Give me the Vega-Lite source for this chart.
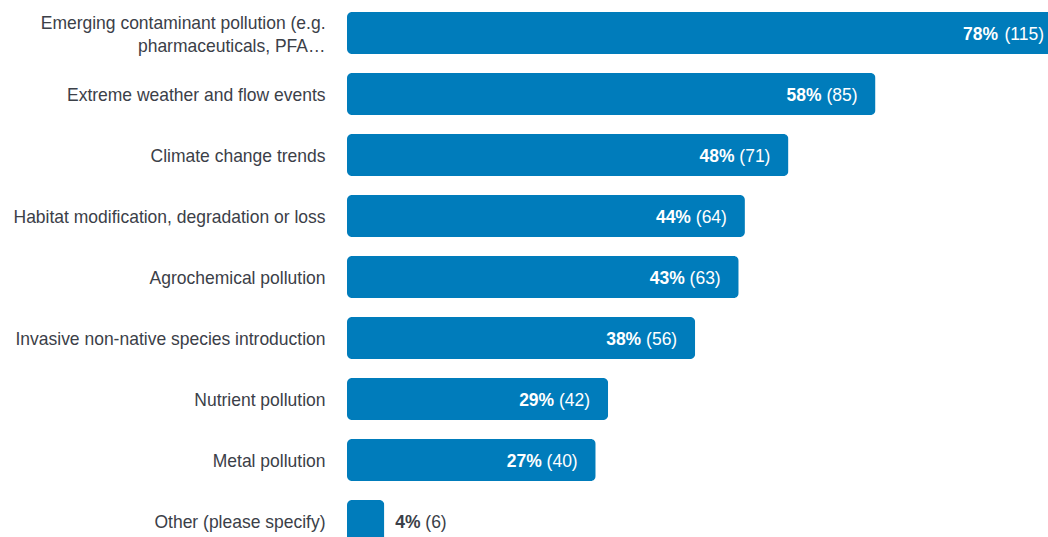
{
  "$schema": "https://vega.github.io/schema/vega-lite/v6.json",
  "autosize": {"type": "none"},
  "padding": {"left": 347, "top": 0, "right": 0, "bottom": 0},
  "width": 715,
  "height": {"step": 61},
  "background": "white",
  "config": {
    "view": {"stroke": null},
    "font": "Liberation Sans",
    "text": {"font": "Liberation Sans"}
  },
  "data": {
    "values": [
      {"category": "Emerging contaminant pollution (e.g. pharmaceuticals, PFA…", "pct": 78, "count": 115},
      {"category": "Extreme weather and flow events", "pct": 58, "count": 85},
      {"category": "Climate change trends", "pct": 48, "count": 71},
      {"category": "Habitat modification, degradation or loss", "pct": 44, "count": 64},
      {"category": "Agrochemical pollution", "pct": 43, "count": 63},
      {"category": "Invasive non-native species introduction", "pct": 38, "count": 56},
      {"category": "Nutrient pollution", "pct": 29, "count": 42},
      {"category": "Metal pollution", "pct": 27, "count": 40},
      {"category": "Other (please specify)", "pct": 4, "count": 6}
    ]
  },
  "transform": [
    {"calculate": "datum.pct + '%'", "as": "pctLabel"},
    {"calculate": "'(' + datum.count + ')'", "as": "countLabel"}
  ],
  "encoding": {
    "y": {
      "field": "category",
      "type": "nominal",
      "sort": null,
      "scale": {"paddingInner": 0.311, "paddingOuter": 0.197},
      "axis": {
        "title": null,
        "domain": false,
        "ticks": false,
        "labelFontSize": 17.5,
        "labelColor": "#3b4048",
        "labelPadding": 22,
        "labelLimit": 400,
        "labelLineHeight": 23,
        "labelOffset": {"condition": {"test": "indexof(datum.label, 'e.g.') >= 0", "value": -9}, "value": 2},
        "labelExpr": "split(replace(datum.label, '(e.g. ', '(e.g.|'), '|')"
      }
    },
    "x": {
      "field": "count",
      "type": "quantitative",
      "scale": {"domain": [0, 115], "nice": false},
      "axis": null
    }
  },
  "layer": [
    {"mark": {"type": "bar", "color": "#007cbb", "cornerRadius": 5}},
    {
      "transform": [{"filter": "datum.count >= 10"}],
      "mark": {"type": "text", "align": "right", "baseline": "middle", "dx": -18, "dy": 2, "fontSize": 17.5, "color": "white"},
      "encoding": {"text": {"field": "countLabel"}}
    },
    {
      "transform": [{"filter": "datum.count >= 10 && datum.count < 100"}],
      "mark": {"type": "text", "align": "right", "baseline": "middle", "dx": -54, "dy": 2, "fontSize": 17.5, "fontWeight": "bold", "color": "white"},
      "encoding": {"text": {"field": "pctLabel"}}
    },
    {
      "transform": [{"filter": "datum.count >= 100"}],
      "mark": {"type": "text", "align": "right", "baseline": "middle", "dx": -64, "dy": 2, "fontSize": 17.5, "fontWeight": "bold", "color": "white"},
      "encoding": {"text": {"field": "pctLabel"}}
    },
    {
      "transform": [{"filter": "datum.count < 10"}],
      "mark": {"type": "text", "align": "left", "baseline": "middle", "dx": 11, "dy": 2, "fontSize": 17.5, "fontWeight": "bold", "color": "#3b4048"},
      "encoding": {"text": {"field": "pctLabel"}}
    },
    {
      "transform": [{"filter": "datum.count < 10"}],
      "mark": {"type": "text", "align": "left", "baseline": "middle", "dx": 41, "dy": 2, "fontSize": 17.5, "color": "#3b4048"},
      "encoding": {"text": {"field": "countLabel"}}
    }
  ]
}
